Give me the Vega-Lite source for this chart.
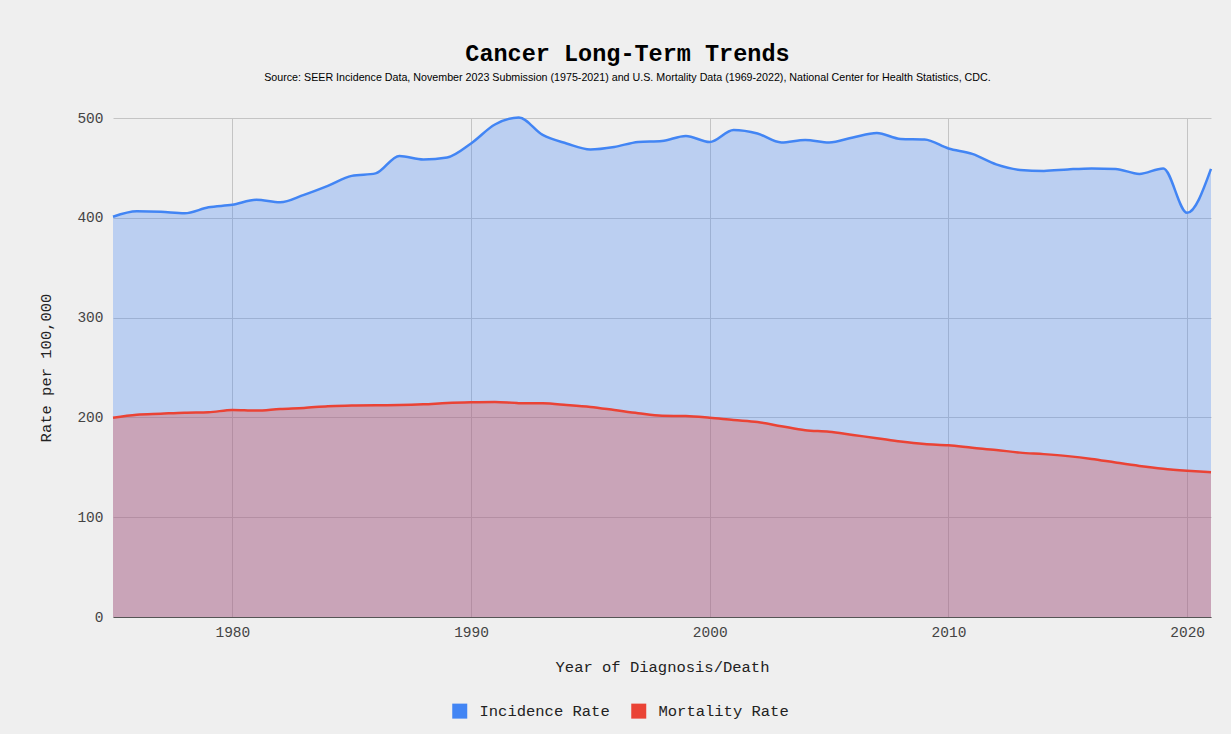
{
  "$schema": "https://vega.github.io/schema/vega-lite/v6.json",
  "width": 1098,
  "height": 499,
  "autosize": {"type": "none"},
  "padding": {"left": 113, "top": 118, "right": 20, "bottom": 117},
  "background": "#efefef",
  "title": {
    "text": "Cancer Long-Term Trends",
    "subtitle": "Source: SEER Incidence Data, November 2023 Submission (1975-2021) and U.S. Mortality Data (1969-2022), National Center for Health Statistics, CDC.",
    "font": "Liberation Mono",
    "fontSize": 23.5,
    "fontWeight": "bold",
    "color": "#000000",
    "subtitleFont": "Liberation Sans",
    "subtitleFontSize": 10.7,
    "subtitleColor": "#000000",
    "subtitlePadding": 8,
    "anchor": "middle",
    "frame": "bounds",
    "offset": 27
  },
  "datasets": {
    "rates": [
      {"year": 1975, "series": "Incidence Rate", "rate": 401},
      {"year": 1976, "series": "Incidence Rate", "rate": 406.5},
      {"year": 1977, "series": "Incidence Rate", "rate": 406},
      {"year": 1978, "series": "Incidence Rate", "rate": 404.5},
      {"year": 1979, "series": "Incidence Rate", "rate": 410.5},
      {"year": 1980, "series": "Incidence Rate", "rate": 413},
      {"year": 1981, "series": "Incidence Rate", "rate": 418},
      {"year": 1982, "series": "Incidence Rate", "rate": 415.5},
      {"year": 1983, "series": "Incidence Rate", "rate": 423},
      {"year": 1984, "series": "Incidence Rate", "rate": 432},
      {"year": 1985, "series": "Incidence Rate", "rate": 442},
      {"year": 1986, "series": "Incidence Rate", "rate": 444.5},
      {"year": 1987, "series": "Incidence Rate", "rate": 462},
      {"year": 1988, "series": "Incidence Rate", "rate": 458.5},
      {"year": 1989, "series": "Incidence Rate", "rate": 460.5},
      {"year": 1990, "series": "Incidence Rate", "rate": 474.5},
      {"year": 1991, "series": "Incidence Rate", "rate": 493.5},
      {"year": 1992, "series": "Incidence Rate", "rate": 500.5},
      {"year": 1993, "series": "Incidence Rate", "rate": 483},
      {"year": 1994, "series": "Incidence Rate", "rate": 474.5},
      {"year": 1995, "series": "Incidence Rate", "rate": 468.5},
      {"year": 1996, "series": "Incidence Rate", "rate": 471},
      {"year": 1997, "series": "Incidence Rate", "rate": 476},
      {"year": 1998, "series": "Incidence Rate", "rate": 477},
      {"year": 1999, "series": "Incidence Rate", "rate": 482},
      {"year": 2000, "series": "Incidence Rate", "rate": 476},
      {"year": 2001, "series": "Incidence Rate", "rate": 488},
      {"year": 2002, "series": "Incidence Rate", "rate": 484.5},
      {"year": 2003, "series": "Incidence Rate", "rate": 475.5},
      {"year": 2004, "series": "Incidence Rate", "rate": 478},
      {"year": 2005, "series": "Incidence Rate", "rate": 475.5},
      {"year": 2006, "series": "Incidence Rate", "rate": 480.5},
      {"year": 2007, "series": "Incidence Rate", "rate": 485},
      {"year": 2008, "series": "Incidence Rate", "rate": 479},
      {"year": 2009, "series": "Incidence Rate", "rate": 478.5},
      {"year": 2010, "series": "Incidence Rate", "rate": 469.5},
      {"year": 2011, "series": "Incidence Rate", "rate": 464},
      {"year": 2012, "series": "Incidence Rate", "rate": 453.5},
      {"year": 2013, "series": "Incidence Rate", "rate": 448},
      {"year": 2014, "series": "Incidence Rate", "rate": 447},
      {"year": 2015, "series": "Incidence Rate", "rate": 448.5},
      {"year": 2016, "series": "Incidence Rate", "rate": 449.5},
      {"year": 2017, "series": "Incidence Rate", "rate": 449},
      {"year": 2018, "series": "Incidence Rate", "rate": 444},
      {"year": 2019, "series": "Incidence Rate", "rate": 449.5},
      {"year": 2020, "series": "Incidence Rate", "rate": 405},
      {"year": 2021, "series": "Incidence Rate", "rate": 449},
      {"year": 1975, "series": "Mortality Rate", "rate": 199.7},
      {"year": 1976, "series": "Mortality Rate", "rate": 202.7},
      {"year": 1977, "series": "Mortality Rate", "rate": 203.7},
      {"year": 1978, "series": "Mortality Rate", "rate": 204.7},
      {"year": 1979, "series": "Mortality Rate", "rate": 205.1},
      {"year": 1980, "series": "Mortality Rate", "rate": 207.5},
      {"year": 1981, "series": "Mortality Rate", "rate": 206.8},
      {"year": 1982, "series": "Mortality Rate", "rate": 208.5},
      {"year": 1983, "series": "Mortality Rate", "rate": 209.5},
      {"year": 1984, "series": "Mortality Rate", "rate": 211.2},
      {"year": 1985, "series": "Mortality Rate", "rate": 211.8},
      {"year": 1986, "series": "Mortality Rate", "rate": 212.2},
      {"year": 1987, "series": "Mortality Rate", "rate": 212.4},
      {"year": 1988, "series": "Mortality Rate", "rate": 213.1},
      {"year": 1989, "series": "Mortality Rate", "rate": 214.4},
      {"year": 1990, "series": "Mortality Rate", "rate": 215.1},
      {"year": 1991, "series": "Mortality Rate", "rate": 215.4},
      {"year": 1992, "series": "Mortality Rate", "rate": 214.3},
      {"year": 1993, "series": "Mortality Rate", "rate": 214.1},
      {"year": 1994, "series": "Mortality Rate", "rate": 212.5},
      {"year": 1995, "series": "Mortality Rate", "rate": 210.5},
      {"year": 1996, "series": "Mortality Rate", "rate": 207.4},
      {"year": 1997, "series": "Mortality Rate", "rate": 204.2},
      {"year": 1998, "series": "Mortality Rate", "rate": 201.6},
      {"year": 1999, "series": "Mortality Rate", "rate": 201.3},
      {"year": 2000, "series": "Mortality Rate", "rate": 199.6},
      {"year": 2001, "series": "Mortality Rate", "rate": 197.3},
      {"year": 2002, "series": "Mortality Rate", "rate": 195.3},
      {"year": 2003, "series": "Mortality Rate", "rate": 191.2},
      {"year": 2004, "series": "Mortality Rate", "rate": 187.2},
      {"year": 2005, "series": "Mortality Rate", "rate": 185.7},
      {"year": 2006, "series": "Mortality Rate", "rate": 182.4},
      {"year": 2007, "series": "Mortality Rate", "rate": 179.2},
      {"year": 2008, "series": "Mortality Rate", "rate": 175.8},
      {"year": 2009, "series": "Mortality Rate", "rate": 173.3},
      {"year": 2010, "series": "Mortality Rate", "rate": 172.0},
      {"year": 2011, "series": "Mortality Rate", "rate": 169.6},
      {"year": 2012, "series": "Mortality Rate", "rate": 167.4},
      {"year": 2013, "series": "Mortality Rate", "rate": 164.7},
      {"year": 2014, "series": "Mortality Rate", "rate": 163.2},
      {"year": 2015, "series": "Mortality Rate", "rate": 161.2},
      {"year": 2016, "series": "Mortality Rate", "rate": 158.4},
      {"year": 2017, "series": "Mortality Rate", "rate": 154.8},
      {"year": 2018, "series": "Mortality Rate", "rate": 151.4},
      {"year": 2019, "series": "Mortality Rate", "rate": 148.6},
      {"year": 2020, "series": "Mortality Rate", "rate": 146.6},
      {"year": 2021, "series": "Mortality Rate", "rate": 145.0}
    ]
  },
  "data": {"name": "rates"},
  "encoding": {
    "x": {
      "field": "year",
      "type": "quantitative",
      "scale": {"domain": [1975, 2021], "nice": false, "zero": false},
      "axis": {
        "title": "Year of Diagnosis/Death",
        "values": [1980, 1990, 2000, 2010, 2020],
        "format": "d",
        "labelFont": "Liberation Mono",
        "labelFontSize": 14.5,
        "labelColor": "#444444",
        "labelPadding": 8,
        "ticks": false,
        "domain": true,
        "domainColor": "#555555",
        "domainWidth": 1,
        "gridColor": "#c4c4c4",
        "titleFont": "Liberation Mono",
        "titleFontSize": 15.5,
        "titleFontWeight": "normal",
        "titleColor": "#222222",
        "titlePadding": 21
      }
    },
    "y": {
      "field": "rate",
      "type": "quantitative",
      "scale": {"domain": [0, 500], "nice": false},
      "axis": {
        "title": "Rate per 100,000",
        "values": [0, 100, 200, 300, 400, 500],
        "labelFont": "Liberation Mono",
        "labelFontSize": 14.5,
        "labelColor": "#444444",
        "labelPadding": 10,
        "ticks": false,
        "domain": false,
        "gridColor": "#c4c4c4",
        "titleFont": "Liberation Mono",
        "titleFontSize": 15.5,
        "titleFontWeight": "normal",
        "titleColor": "#222222",
        "titlePadding": 23
      }
    },
    "color": {
      "field": "series",
      "type": "nominal",
      "scale": {"domain": ["Incidence Rate", "Mortality Rate"], "range": ["#4285f4", "#ea4335"]},
      "legend": {
        "title": null,
        "orient": "none",
        "legendX": 339,
        "legendY": 585,
        "direction": "horizontal",
        "symbolType": "square",
        "symbolSize": 225,
        "symbolStrokeWidth": 0,
        "symbolOpacity": 1,
        "labelFont": "Liberation Mono",
        "labelFontSize": 15.5,
        "labelColor": "#222222",
        "labelOffset": 12,
        "columnPadding": 21
      }
    }
  },
  "layer": [
    {
      "mark": {"type": "area", "interpolate": "monotone", "fillOpacity": 0.3},
      "encoding": {"y": {"field": "rate", "type": "quantitative", "stack": null}}
    },
    {
      "mark": {"type": "line", "interpolate": "monotone", "strokeWidth": 2.5}
    }
  ],
  "config": {
    "view": {"stroke": null}
  }
}
